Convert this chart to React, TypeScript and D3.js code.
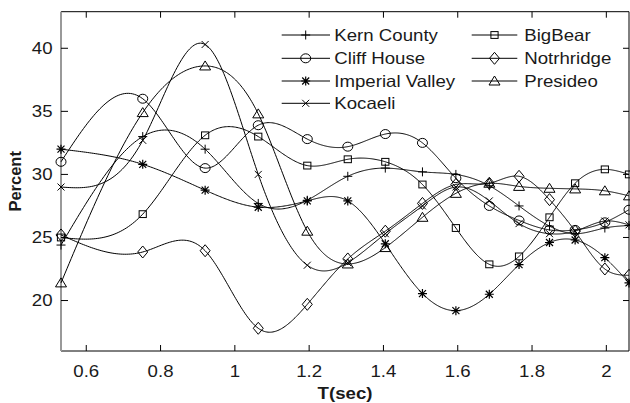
import React from "react";
import * as d3 from "d3";

const T = [0.532, 0.752, 0.92, 1.063, 1.195, 1.304, 1.405, 1.505, 1.595, 1.685, 1.765, 1.847, 1.916, 1.996, 2.061];

const kernCounty = [24.4, 33.0, 32.0, 27.7, 27.95, 29.85, 30.5, 30.2, 30.0, 29.1, 27.5, 25.9, 25.3, 25.75, 25.95];
const bigBear = [25.0, 26.85, 33.1, 33.0, 30.7, 31.2, 31.0, 29.2, 25.75, 22.87, 23.5, 26.6, 29.3, 30.4, 30.0];
const cliffHouse = [31.0, 36.0, 30.5, 33.9, 32.8, 32.2, 33.2, 32.5, 29.7, 27.5, 26.35, 25.6, 25.6, 26.2, 27.2];
const notrhridge = [25.2, 23.85, 23.95, 17.8, 19.7, 23.3, 25.5, 27.7, 29.2, 29.3, 29.85, 28.0, 25.5, 22.5, 22.0];
const imperialValley = [32.0, 30.8, 28.75, 27.4, 27.9, 27.9, 24.5, 20.55, 19.2, 20.5, 22.85, 24.6, 24.8, 23.4, 21.4];
const presideo = [21.4, 34.9, 38.6, 34.8, 25.5, 22.9, 24.2, 26.6, 28.5, 29.3, 29.05, 28.9, 28.85, 28.7, 28.3];
const kocaeli = [29.0, 32.7, 40.3, 30.0, 22.8, 23.0, 25.3, 27.5, 29.0, 27.9, 26.1, 25.3, 25.5, 26.3, 26.0];

const xTicks = [0.6, 0.8, 1, 1.2, 1.4, 1.6, 1.8, 2];
const yTicks = [20, 25, 30, 35, 40];

type Marker = "plus" | "circle" | "star" | "x" | "square" | "diamond" | "triangle";
const series: { name: string; values: number[]; marker: Marker }[] = [
  { name: "Kern County", values: kernCounty, marker: "plus" },
  { name: "Cliff House", values: cliffHouse, marker: "circle" },
  { name: "Imperial Valley", values: imperialValley, marker: "star" },
  { name: "Kocaeli", values: kocaeli, marker: "x" },
  { name: "BigBear", values: bigBear, marker: "square" },
  { name: "Notrhridge", values: notrhridge, marker: "diamond" },
  { name: "Presideo", values: presideo, marker: "triangle" },
];

const W = 630, H = 403;
const L = 61, R = 629, TOP = 11.7, B = 351;
const SX = 1.13;
const FONT = "'Liberation Sans', Arial, Helvetica, sans-serif";
const FS = 16.5;

// natural cubic spline y(x), sampled densely
function splineSample(xs: number[], ys: number[], per = 40): [number, number][] {
  const n = xs.length;
  const h: number[] = [];
  for (let i = 0; i < n - 1; i++) h.push(xs[i + 1] - xs[i]);
  const A: number[][] = Array.from({ length: n }, () => new Array(n + 1).fill(0));
  A[0][0] = 1; A[0][n] = 0;
  for (let i = 1; i < n - 1; i++) {
    A[i][i - 1] = h[i - 1];
    A[i][i] = 2 * (h[i - 1] + h[i]);
    A[i][i + 1] = h[i];
    A[i][n] = 6 * ((ys[i + 1] - ys[i]) / h[i] - (ys[i] - ys[i - 1]) / h[i - 1]);
  }
  const m = n - 1;
  A[m][m] = 1; A[m][n] = 0;
  for (let c = 0; c < n; c++) {
    let p = c;
    for (let r = c + 1; r < n; r++) if (Math.abs(A[r][c]) > Math.abs(A[p][c])) p = r;
    [A[c], A[p]] = [A[p], A[c]];
    for (let r = 0; r < n; r++) {
      if (r === c) continue;
      const f = A[r][c] / A[c][c];
      if (f === 0) continue;
      for (let k = c; k <= n; k++) A[r][k] -= f * A[c][k];
    }
  }
  const M = A.map((row, i) => row[n] / row[i]);
  const out: [number, number][] = [];
  for (let i = 0; i < n - 1; i++) {
    const hi = h[i];
    for (let s = 0; s < per; s++) {
      const x = xs[i] + (hi * s) / per;
      const a = xs[i + 1] - x, b = x - xs[i];
      const y = (M[i] * a * a * a) / (6 * hi) + (M[i + 1] * b * b * b) / (6 * hi) +
        (ys[i] / hi - (M[i] * hi) / 6) * a + (ys[i + 1] / hi - (M[i + 1] * hi) / 6) * b;
      out.push([x, y]);
    }
  }
  out.push([xs[n - 1], ys[n - 1]]);
  return out;
}

function MarkerShape({ type, x, y }: { type: Marker; x: number; y: number }) {
  const st = { fill: "none", stroke: "#000", strokeWidth: 1 };
  switch (type) {
    case "plus":
      return <path d={`M${x - 4.5},${y}H${x + 4.5}M${x},${y - 4.5}V${y + 4.5}`} {...st} />;
    case "x":
      return <path d={`M${x - 3.5},${y - 3.5}L${x + 3.5},${y + 3.5}M${x - 3.5},${y + 3.5}L${x + 3.5},${y - 3.5}`} {...st} />;
    case "star":
      return <path d={`M${x - 4.5},${y}H${x + 4.5}M${x},${y - 4.5}V${y + 4.5}M${x - 3.5},${y - 3.5}L${x + 3.5},${y + 3.5}M${x - 3.5},${y + 3.5}L${x + 3.5},${y - 3.5}`} {...st} strokeWidth={1.2} />;
    case "circle":
      return <ellipse cx={x} cy={y} rx={5} ry={4.5} {...st} />;
    case "square":
      return <rect x={x - 3.6} y={y - 3.4} width={7.2} height={6.8} {...st} />;
    case "diamond":
      return <path d={`M${x},${y - 6}L${x + 5},${y}L${x},${y + 6}L${x - 5},${y}Z`} {...st} />;
    case "triangle":
      return <path d={`M${x},${y - 5}L${x + 5.5},${y + 4}L${x - 5.5},${y + 4}Z`} {...st} />;
  }
  return null;
}

function SText({ x, y, anchor, children, bold }: { x: number; y: number; anchor: string; children: any; bold?: boolean }) {
  return (
    <text
      transform={`translate(${x},${y}) scale(${SX},1)`}
      textAnchor={anchor}
      fontFamily={FONT}
      fontSize={FS}
      fontWeight={bold ? "bold" : "normal"}
      fill="#1a1a1a"
    >
      {children}
    </text>
  );
}

export default function App() {
  const xScale = d3.scaleLinear().domain([0.532, 2.061]).range([L, R]);
  const yScale = d3.scaleLinear().domain([16, 42.9]).range([B, TOP]);
  const line = d3.line<[number, number]>().x((d) => xScale(d[0])).y((d) => yScale(d[1]));

  const legendRows = [35, 58.3, 81, 103.3];
  const legendPos = series.map((s, i) => {
    if (i < 4) return { l0: 281.7, l1: 330, m: 305.7, t: 334.3, y: legendRows[i] };
    return { l0: 471.7, l1: 517.3, m: 494.5, t: 524.3, y: legendRows[i - 4] };
  });

  return (
    <svg width={W} height={H} style={{ position: "absolute", left: 0, top: 0, background: "#fff" }}>
      <rect x={0} y={0} width={W} height={H} fill="#fff" />
      <line x1={L} x2={R} y1={TOP} y2={TOP} stroke="#000" />
      <line x1={L} x2={R} y1={B} y2={B} stroke="#000" />
      <line x1={R} x2={R} y1={TOP} y2={B} stroke="#000" />
      <line x1={L} x2={L} y1={TOP} y2={B} stroke="#999" strokeWidth={2} />
      {xTicks.map((t) => (
        <g key={"xt" + t}>
          <line x1={xScale(t)} x2={xScale(t)} y1={B} y2={B - 6} stroke="#000" />
          <line x1={xScale(t)} x2={xScale(t)} y1={TOP} y2={TOP + 6} stroke="#000" />
          <SText x={xScale(t)} y={377} anchor="middle">{String(t)}</SText>
        </g>
      ))}
      {yTicks.map((t) => (
        <g key={"yt" + t}>
          <line x1={L} x2={L + 7} y1={yScale(t)} y2={yScale(t)} stroke="#000" />
          <line x1={R} x2={R - 6} y1={yScale(t)} y2={yScale(t)} stroke="#000" />
          <SText x={52.5} y={yScale(t) + 5.9} anchor="end">{String(t)}</SText>
        </g>
      ))}
      <SText x={345} y={398.5} anchor="middle" bold>T(sec)</SText>
      <text
        transform={`translate(21,${(TOP + B) / 2}) rotate(-90)`}
        textAnchor="middle"
        fontFamily={FONT}
        fontSize={FS}
        fontWeight="bold"
        fill="#1a1a1a"
      >
        Percent
      </text>
      {series.map((s) => (
        <g key={s.name}>
          <path d={line(splineSample(T, s.values)) || ""} fill="none" stroke="#000" strokeWidth={1} />
          {s.values.map((v, i) => (
            <MarkerShape key={i} type={s.marker} x={xScale(T[i])} y={yScale(v)} />
          ))}
        </g>
      ))}
      {series.map((s, i) => {
        const p = legendPos[i];
        return (
          <g key={"lg" + s.name}>
            <line x1={p.l0} x2={p.l1} y1={p.y} y2={p.y} stroke="#000" />
            <MarkerShape type={s.marker} x={p.m} y={p.y} />
            <SText x={p.t} y={p.y + 6} anchor="start">{s.name}</SText>
          </g>
        );
      })}
    </svg>
  );
}
